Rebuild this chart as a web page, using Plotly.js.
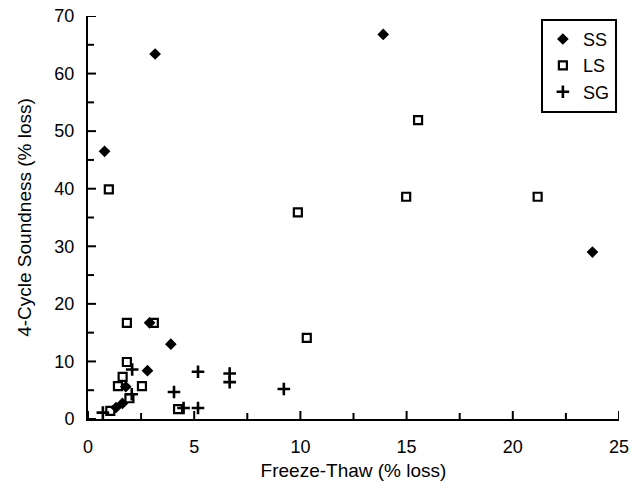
<!DOCTYPE html>
<html>
<head>
<meta charset="utf-8">
<script src="https://cdn.plot.ly/plotly-3.0.1.min.js"></script>
<style>
  html, body { margin: 0; padding: 0; background: #ffffff; }
  #chart { width: 631px; height: 489px; }
</style>
</head>
<body>
<div id="chart"></div>
<script>
// Freeze-thaw loss vs. 4-cycle soundness loss, by aggregate type
const ssX = [0.78, 3.16, 13.9, 23.75, 2.9, 3.9, 2.8, 1.78, 1.32, 1.62];
const ssY = [46.5, 63.4, 66.8, 29.0, 16.7, 13.0, 8.4, 5.6, 2.0, 2.7];

const lsX = [0.98, 15.54, 14.98, 21.17, 9.88, 10.3, 1.83, 3.1, 1.83, 1.63, 1.41, 2.54, 1.95, 1.05, 4.24];
const lsY = [39.9, 51.9, 38.6, 38.6, 35.9, 14.1, 16.7, 16.7, 9.9, 7.3, 5.7, 5.7, 3.6, 1.4, 1.7];

const sgX = [2.08, 4.05, 2.06, 0.7, 4.5, 5.18, 5.18, 6.67, 6.67, 9.22];
const sgY = [8.6, 4.7, 4.3, 1.1, 1.9, 8.2, 1.9, 7.9, 6.4, 5.2];

// Tick positions: labelled (major) and unlabelled (minor)
const xMajorTicks = [0, 5, 10, 15, 20, 25];
const xMinorTicks = [2.5, 7.5, 12.5, 17.5, 22.5];
const yMajorTicks = [0, 10, 20, 30, 40, 50, 60, 70];
const yMinorTicks = [5, 15, 25, 35, 45, 55, 65];

const FONT = 'Liberation Sans, Arial, Helvetica, sans-serif';
const W = 631, H = 489;
const M = { l: 88, r: 12, t: 16, b: 70, pad: 0 };
const X_RANGE = [0, 25], Y_RANGE = [0, 70];

// pixel -> data-unit conversion for the inward tick strokes
const xUnitsPerPx = (X_RANGE[1] - X_RANGE[0]) / (W - M.l - M.r);
const yUnitsPerPx = (Y_RANGE[1] - Y_RANGE[0]) / (H - M.t - M.b);

// Build one line trace of short segments (null-separated) for the tick strokes
function tickTrace() {
  const tx = [], ty = [];
  const addX = (v, len) => { tx.push(v, v, null); ty.push(Y_RANGE[0], Y_RANGE[0] + len * yUnitsPerPx, null); };
  const addY = (v, len) => { ty.push(v, v, null); tx.push(X_RANGE[0], X_RANGE[0] + len * xUnitsPerPx, null); };
  xMajorTicks.forEach(v => addX(v, 8));
  xMinorTicks.forEach(v => addX(v, 6));
  yMajorTicks.forEach(v => addY(v, 8));
  yMinorTicks.forEach(v => addY(v, 6));
  return {
    x: tx, y: ty, type: 'scatter', mode: 'lines',
    line: { color: '#000000', width: 2 },
    showlegend: false, hoverinfo: 'skip', cliponaxis: false, connectgaps: false
  };
}

const traces = [
  tickTrace(),
  {
    x: ssX, y: ssY, name: 'SS', type: 'scatter', mode: 'markers',
    marker: { symbol: 'diamond', size: 9, color: '#000000' }
  },
  {
    x: lsX, y: lsY, name: 'LS', type: 'scatter', mode: 'markers',
    marker: { symbol: 'square-open', size: 8, color: '#000000', line: { width: 2.2, color: '#000000' } }
  },
  {
    x: sgX, y: sgY, name: 'SG', type: 'scatter', mode: 'markers',
    marker: { symbol: 'cross-thin-open', size: 9, color: '#000000', line: { width: 2.6, color: '#000000' } }
  }
];

const layout = {
  width: W,
  height: H,
  margin: M,
  paper_bgcolor: '#ffffff',
  plot_bgcolor: '#ffffff',
  font: { family: FONT, size: 18, color: '#000000' },
  showlegend: true,
  legend: {
    x: 0.996, y: 0.993, xanchor: 'right', yanchor: 'top',
    bgcolor: '#ffffff', bordercolor: '#000000', borderwidth: 2,
    font: { family: FONT, size: 18, color: '#000000' },
    itemwidth: 30
  },
  xaxis: {
    range: X_RANGE,
    tickmode: 'array', tickvals: xMajorTicks, ticktext: xMajorTicks.map(String),
    ticks: '',
    showline: true, linewidth: 2, linecolor: '#000000',
    showgrid: false, zeroline: false,
    ticklabelstandoff: 10,
    tickfont: { family: FONT, size: 18 },
    title: { text: 'Freeze-Thaw (% loss)', font: { family: FONT, size: 19 }, standoff: 8 }
  },
  yaxis: {
    range: Y_RANGE,
    tickmode: 'array', tickvals: yMajorTicks, ticktext: yMajorTicks.map(String),
    ticks: '',
    showline: true, linewidth: 2, linecolor: '#000000',
    showgrid: false, zeroline: false,
    ticklabelstandoff: 8,
    tickfont: { family: FONT, size: 18 },
    title: { text: '4-Cycle Soundness (% loss)', font: { family: FONT, size: 19 }, standoff: 18 }
  }
};

Plotly.newPlot('chart', traces, layout, { displayModeBar: false });
</script>
</body>
</html>
